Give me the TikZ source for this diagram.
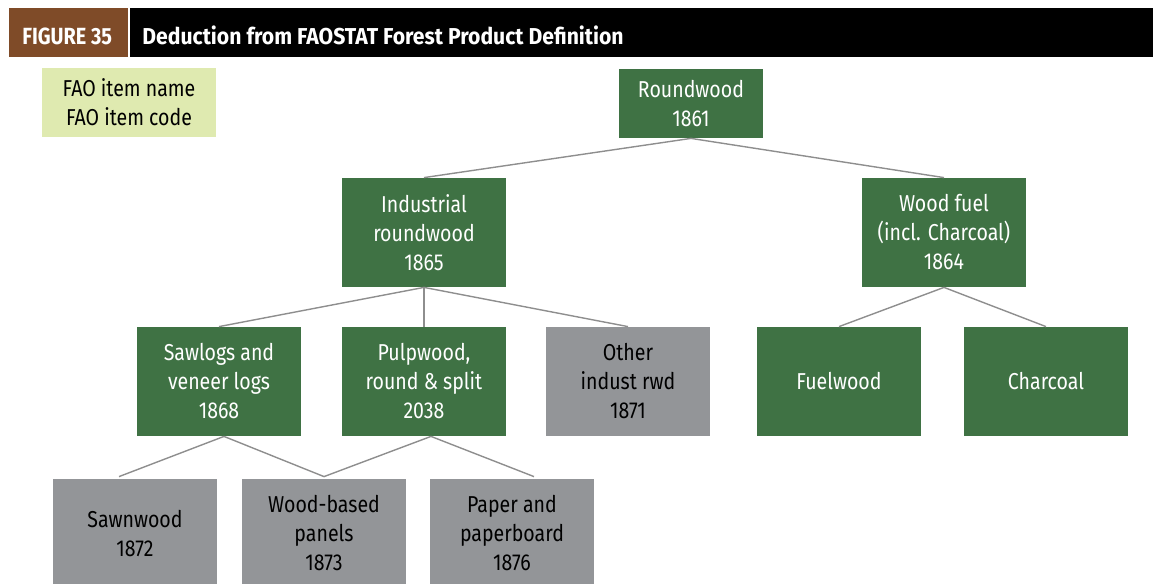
\documentclass[tikz,border=0pt]{standalone}
\usepackage{fontspec}
\setmainfont{Fira Sans}[FakeStretch=0.85]
\newfontfamily\fptitlefont{Fira Sans}[FakeStretch=0.92]
\usepackage{tikz}
\usetikzlibrary{positioning}
\definecolor{fpgreen}{HTML}{3F7244}
\definecolor{fpgrey}{HTML}{939598}
\definecolor{fplegend}{HTML}{DFEAB0}
\definecolor{fpbrown}{HTML}{7F4B28}
\definecolor{fplink}{HTML}{8E8E8E}
\tikzset{
  fpbox/.style={inner sep=0pt, align=center, minimum width=82pt, minimum height=54.5pt,
    font=\fontsize{11.5}{14.5}\selectfont},
  fpgreenbox/.style={fpbox, fill=fpgreen, text=white},
  fpgreybox/.style={fpbox, fill=fpgrey, text=black},
  fplinkline/.style={draw=fplink, line width=0.7pt}
}

\begin{document}
\begin{tikzpicture}[x=0.5pt, y=-0.5pt]
  \useasboundingbox (0,0) rectangle (1153,584);
  % title bar
  \fill[fpbrown] (9,8) rectangle (128,57);
  \fill[black] (130,8) rectangle (1153,57);
  \node[anchor=base west, inner sep=0pt, text=white, font=\fontsize{11.7}{13}\selectfont\bfseries] (figno) at (22,44.5) {FIGURE 35};
  \node[anchor=base west, inner sep=0pt, text=white, font=\fontsize{11.5}{13}\fptitlefont\bfseries] (figtitle) at (142,44.5) {Deduction from FAOSTAT Forest Product Definition};
  % key
  \node[fpbox, fill=fplegend, minimum width=87pt, minimum height=34.5pt] (key) at (129,102.5) {FAO item name\\FAO item code};
  % level 1
  \node[fpgreenbox, minimum width=72pt, minimum height=34.5pt] (round) at (691,103.5) {Roundwood\\1861};
  % level 2
  \node[fpgreenbox] (indrwd) at (424,232.5) {Industrial\\roundwood\\1865};
  \node[fpgreenbox] (woodfuel) at (944,232.5) {Wood fuel\\(incl. Charcoal)\\1864};
  % level 3
  \node[fpgreenbox] (sawlogs) at (219,381.5) {Sawlogs and\\veneer logs\\1868};
  \node[fpgreenbox] (pulp) at (424,381.5) {Pulpwood,\\round \& split\\2038};
  \node[fpgreybox] (otherind) at (628,381.5) {Other\\indust rwd\\1871};
  \node[fpgreenbox] (fuelwood) at (839,381.5) {Fuelwood};
  \node[fpgreenbox] (charcoal) at (1046,381.5) {Charcoal};
  % level 4
  \node[fpgreybox] (sawn) at (135,533.5) {Sawnwood\\1872};
  \node[fpgreybox] (panels) at (324,533.5) {Wood-based\\panels\\1873};
  \node[fpgreybox] (paper) at (512,533.5) {Paper and\\paperboard\\1876};
  % links
  \draw[fplinkline] (round.south) -- (indrwd.north);
  \draw[fplinkline] (round.south) -- (woodfuel.north);
  \draw[fplinkline] (indrwd.south) -- (sawlogs.north);
  \draw[fplinkline] (indrwd.south) -- (pulp.north);
  \draw[fplinkline] (indrwd.south) -- (otherind.north);
  \draw[fplinkline] (woodfuel.south) -- (fuelwood.north);
  \draw[fplinkline] (woodfuel.south) -- (charcoal.north);
  \draw[fplinkline] ([xshift=2.5pt]sawlogs.south) -- ([xshift=-8pt,yshift=1pt]sawn.north);
  \draw[fplinkline] ([xshift=2.5pt]sawlogs.south) -- ([yshift=1pt]panels.north);
  \draw[fplinkline] ([xshift=3.5pt]pulp.south) -- ([yshift=1pt]panels.north);
  \draw[fplinkline] ([xshift=3.5pt]pulp.south) -- ([xshift=11pt,yshift=1pt]paper.north);
\end{tikzpicture}
\end{document}
